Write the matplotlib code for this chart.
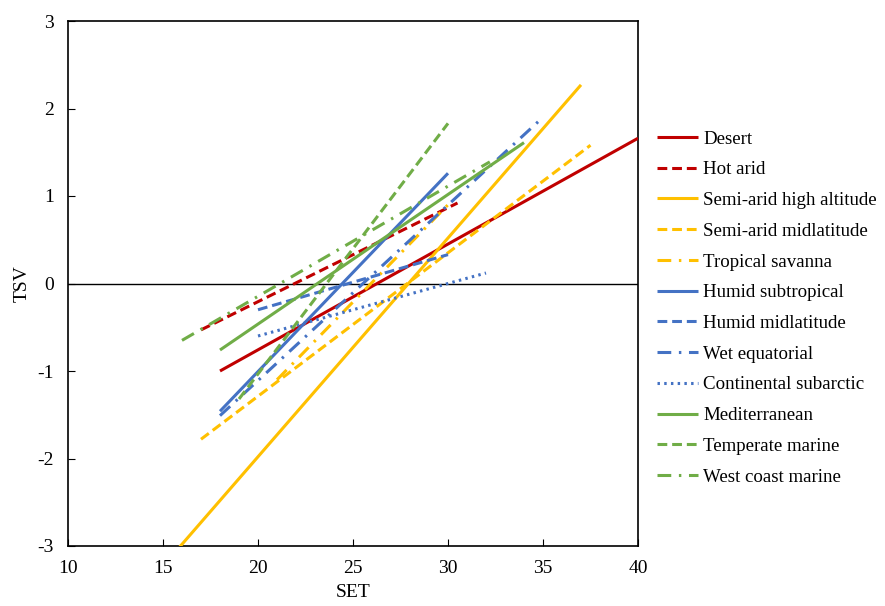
import matplotlib
matplotlib.use("Agg")
import matplotlib.pyplot as plt

plt.rcParams['font.family'] = ['Liberation Serif', 'DejaVu Serif']
plt.rcParams['axes.unicode_minus'] = False

# Climate zones and fitted TSV-SET lines (start/end points of each regression line)
zones = ["Desert", "Hot arid", "Semi-arid high altitude", "Semi-arid midlatitude",
         "Tropical savanna", "Humid subtropical", "Humid midlatitude", "Wet equatorial",
         "Continental subarctic", "Mediterranean", "Temperate marine", "West coast marine"]
set_start = [18.0, 17.0, 15.0, 17.0, 21.0, 18.0, 20.0, 18.0, 20.0, 18.0, 19.0, 16.0]
set_end   = [40.0, 30.5, 37.0, 37.5, 30.0, 30.0, 30.0, 34.9, 32.0, 34.0, 30.0, 32.2]
tsv_start = [-1.00, -0.53, -3.23, -1.78, -1.10, -1.46, -0.30, -1.51, -0.60, -0.76, -1.32, -0.65]
tsv_end   = [1.66, 0.92, 2.27, 1.58, 0.90, 1.26, 0.33, 1.88, 0.12, 1.61, 1.83, 1.39]

red, yellow, blue, green = "#C00000", "#FFC000", "#4472C4", "#70AD47"
colors = [red, red, yellow, yellow, yellow, blue, blue, blue, blue, green, green, green]
dashed = (0, (3.2, 1.6))
dashdot = (0, (4.5, 2.5, 0.8, 2.5))
dotted = (0, (0.8, 1.4))
styles = ["-", dashed, "-", dashed, dashdot, "-", dashed, dashdot, dotted, "-", dashed, dashdot]

fig = plt.figure(figsize=(8.85, 6.06), dpi=100)
ax = fig.add_axes([68 / 885, 1 - 546 / 606, (638 - 68) / 885, (546 - 21) / 606])

ax.axhline(0, color="black", lw=1.0, zorder=1)

handles = []
for name, x0, x1, y0, y1, c, ls in zip(zones, set_start, set_end, tsv_start, tsv_end, colors, styles):
    h, = ax.plot([x0, x1], [y0, y1], color=c, ls=ls, lw=2.2, label=name,
                 solid_capstyle="butt", dash_capstyle="butt", zorder=3)
    handles.append(h)

ax.set_xlim(10, 40)
ax.set_ylim(-3, 3)
ax.set_xticks(range(10, 41, 5))
ax.set_yticks(range(-3, 4))
ax.tick_params(direction="in", length=5, width=0.8, labelsize=14, pad=10, colors="black")
for s in ax.spines.values():
    s.set_linewidth(1.2)
    s.set_color("black")

ax.set_xlabel("SET", fontsize=14, labelpad=5)
ax.set_ylabel("TSV", fontsize=14, labelpad=5)

fig.legend(handles=handles, loc="center left", bbox_to_anchor=(657 / 885, 1 - 308 / 606),
           frameon=False, fontsize=13.6, handlelength=2.15, handletextpad=0.3,
           labelspacing=0.715, borderpad=0, borderaxespad=0)

fig.savefig("out.png", dpi=100)
